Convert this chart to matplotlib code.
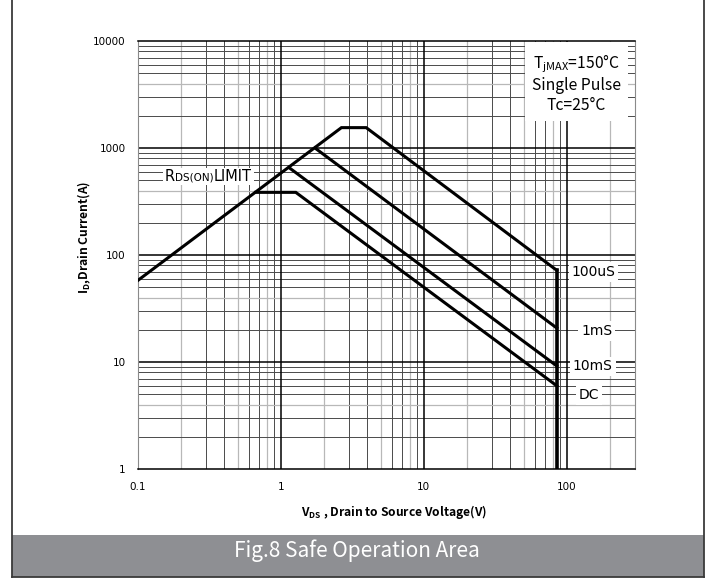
import numpy as np
import matplotlib
matplotlib.use("Agg")
import matplotlib.pyplot as plt
from matplotlib.patches import Rectangle
from matplotlib.lines import Line2D

plt.rcParams['font.family'] = ['DejaVu Sans']
plt.rcParams['mathtext.fontset'] = 'custom'
plt.rcParams['mathtext.rm'] = 'Noto Sans CJK SC'
plt.rcParams['mathtext.bf'] = 'Noto Sans CJK SC:bold'

#### data
rds_v = [0.1, 2.65]
rds_i = [58, 1550]
us100_v = [2.65, 3.95, 85]
us100_i = [1550, 1550, 72]
ms1_v = [1.73, 85]
ms1_i = [1000, 20.8]
ms10_v = [1.14, 85]
ms10_i = [655, 9.2]
dc_v = [0.665, 1.27, 85]
dc_i = [385, 385, 6.0]
vmax_v = [85, 85]
vmax_i = [72, 1]

x_ticks = [0.1, 1, 10, 100]
x_labels = ["0.1", "1", "10", "100"]
y_ticks = [1, 10, 100, 1000, 10000]
y_labels = ["1", "10", "100", "1000", "10000"]

curve_labels = ["100uS", "1mS", "10mS", "DC"]
# where the curve names sit (data coords)
label_x = [154, 162, 152, 142]
label_y = [69, 19.5, 9.1, 4.9]

fig = plt.figure(figsize=(7.12, 5.81), dpi=100)
ax = fig.add_axes([138/712, 1 - 469/581, (635-138)/712, (469-41)/581])
ax.set_xscale('log'); ax.set_yscale('log')
ax.set_xlim(0.1, 300); ax.set_ylim(1, 10000)

#### grid: black decades, dark/light gray minors
dark, light = '#4a4a4a', '#b8b8b8'
for dec in [0.1, 1, 10, 100]:
    for m in range(2, 10):
        xv = dec*m
        if xv < 300:
            ax.axvline(xv, color=light if m in (2, 5, 8) else dark, lw=0.9 if m in (2, 5, 8) else 0.7, zorder=1)
for dec in [1, 10, 100, 1000]:
    for m in range(2, 10):
        ax.axhline(dec*m, color=light if m == 4 else dark, lw=0.9 if m == 4 else 0.7, zorder=1)
for xv in [1, 10, 100]:
    ax.axvline(xv, color='black', lw=1.1, zorder=1.5)
for yv in [10, 100, 1000]:
    ax.axhline(yv, color='black', lw=1.1, zorder=1.5)

#### SOA curves
kw = dict(color='black', lw=2.2, solid_joinstyle='miter', zorder=3)
ax.plot(rds_v + us100_v[1:], rds_i + us100_i[1:], **kw)
ax.plot(ms1_v, ms1_i, **kw)
ax.plot(ms10_v, ms10_i, **kw)
ax.plot(dc_v, dc_i, **kw)
ax.plot(vmax_v, vmax_i, color='black', lw=2.6, zorder=3)

#### axes styling
ax.set_xticks(x_ticks, x_labels)
ax.set_yticks(y_ticks, y_labels)
ax.minorticks_off()
ax.tick_params(length=0, labelsize=7.5, pad=9)
for s in ['left', 'right']:
    ax.spines[s].set_color('#8a8a8a')
for s in ['top', 'bottom']:
    ax.spines[s].set_color('black')
    ax.spines[s].set_linewidth(1.1)

ax.set_xlabel(r"$\mathbf{V_{DS}}$ , Drain to Source Voltage(V)", fontsize=8.7,
              fontweight='bold', family='Noto Sans CJK SC')
ax.xaxis.set_label_coords(0.516, -0.079)
ax.set_ylabel(r"$\mathbf{I_{D}}$,Drain Current(A)", fontsize=8.7,
              fontweight='bold', family='Noto Sans CJK SC')
ax.yaxis.set_label_coords(-0.09, 0.542)

#### annotations
ax.text(0.882, 0.975, "T$_{\\mathrm{jMAX}}$=150°C\nSingle Pulse\nTc=25°C",
        transform=ax.transAxes, ha='center', va='top', fontsize=11.3,
        family='Noto Sans CJK SC', linespacing=1.25, zorder=5,
        bbox=dict(facecolor='white', edgecolor='none', pad=5))

for lab, xv, yv in zip(curve_labels, label_x, label_y):
    ax.text(xv, yv, lab, ha='center', va='center', fontsize=10, zorder=5,
            bbox=dict(facecolor='white', edgecolor='none', pad=2))

t1 = ax.text(0.054, 0.673, "R", transform=ax.transAxes, ha='left',
             va='baseline', fontsize=10.5, zorder=6)
t2 = ax.annotate("DS(ON)", xy=(1, 0), xycoords=t1, xytext=(0, 0.7),
                 textcoords='offset points', ha='left', va='bottom',
                 fontsize=7.5, zorder=6)
t3 = ax.annotate("LIMIT", xy=(1, 0), xycoords=t2, xytext=(0, -0.7),
                 textcoords='offset points', ha='left', va='bottom',
                 fontsize=10.5, zorder=6)
fig.canvas.draw()
r = fig.canvas.get_renderer()
b1, b3 = t1.get_window_extent(r), t3.get_window_extent(r)
inv = ax.transAxes.inverted()
(x0, y0), (x1, y1) = inv.transform([(b1.x0 - 2, b1.y0 - 1), (b3.x1 + 2, b1.y1 + 1)])
ax.add_patch(Rectangle((x0, y0), x1 - x0, y1 - y0, transform=ax.transAxes,
                       facecolor='white', edgecolor='none', zorder=5))

#### outer frame and caption band
fig.patches.append(Rectangle((12/712, 4/581), (704-12)/712, (46-4)/581,
                             transform=fig.transFigure, facecolor='#8e8f93',
                             edgecolor='none', zorder=0))
fc = '#3a3a3a'
fig.lines.append(Line2D([12/712, 12/712], [4/581, 1], transform=fig.transFigure, color=fc, lw=1.3))
fig.lines.append(Line2D([704/712, 704/712], [4/581, 1], transform=fig.transFigure, color=fc, lw=1.3))
fig.lines.append(Line2D([12/712, 704/712], [4/581, 4/581], transform=fig.transFigure, color=fc, lw=1.3))
fig.text(357/712, 1 - 551/581, "Fig.8 Safe Operation Area", ha='center', va='center',
         color='white', fontsize=15, family='Noto Sans CJK SC')

fig.savefig("out.png", dpi=100)
